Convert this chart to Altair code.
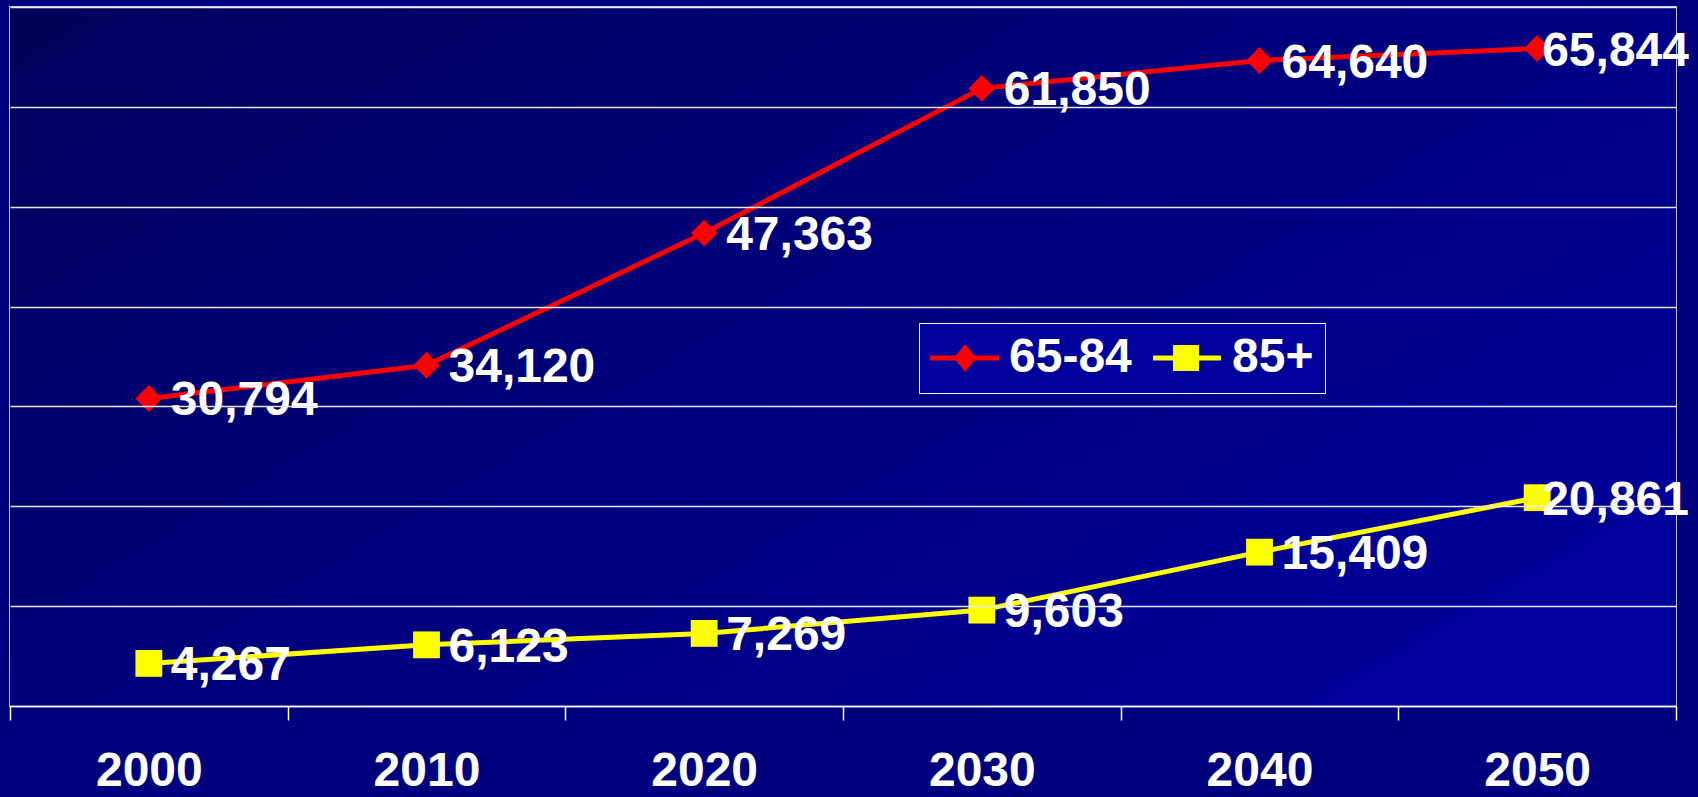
import altair as alt
import pandas as pd

# ---- data ----
years = ["2000", "2010", "2020", "2030", "2040", "2050"]
series_names = ["65-84", "85+"]
vals_65_84 = [30794, 34120, 47363, 61850, 64640, 65844]
vals_85_plus = [4267, 6123, 7269, 9603, 15409, 20861]
y_ticks = [0, 10000, 20000, 30000, 40000, 50000, 60000, 70000]
series_colors = ["#FF0000", "#FFFF00"]
series_shapes = ["diamond", "square"]

rows = []
for name, vals in zip(series_names, [vals_65_84, vals_85_plus]):
    for yr, v in zip(years, vals):
        rows.append({"year": yr, "series": name, "value": v, "label": f"{v:,}"})
df = pd.DataFrame(rows)

FONT = "Liberation Sans"

legend_diamond = "M-1,-0.1H1.875V0.1H-1Z M0.46,-0.58L0.92,0L0.46,0.58L0,0Z"
legend_square = "M-1,-0.1H1.83V0.1H-1Z M-0.165,-0.54H0.915V0.54H-0.165Z"

x_enc = alt.X(
    "year:N",
    sort=years,
    scale=alt.Scale(type="band", paddingInner=0, paddingOuter=0),
    axis=alt.Axis(
        title=None, labelAngle=0, labelFont=FONT, labelFontSize=48,
        labelFontWeight="bold", labelColor="white", labelPadding=27,
        tickColor="white", tickSize=14, tickWidth=1.5, tickBand="extent",
        domainColor="white", domainWidth=1.5, grid=False, zindex=1,
    ),
)
y_enc = alt.Y(
    "value:Q",
    scale=alt.Scale(domain=[0, 70000], nice=False, zero=True),
    axis=alt.Axis(
        title=None, labels=False, ticks=False, domain=False, values=y_ticks,
        grid=True, gridColor="#E8E8F2", gridWidth=1.5, gridOpacity=1, zindex=1,
    ),
)

legend = alt.Legend(
    orient="none", direction="horizontal", title=None,
    legendX=909, legendY=316,
    fillColor="#00009C", strokeColor="white", padding=11,
    labelFont=FONT, labelFontSize=48, labelFontWeight="bold", labelColor="white",
    labelOffset=31, columnPadding=21, symbolSize=2304, labelLimit=400,
    symbolStrokeWidth=0, symbolOpacity=1, zindex=2,
    symbolType=alt.ExprRef(
        expr=f"datum.value === '65-84' ? '{legend_diamond}' : '{legend_square}'"
    ),
)

color_enc = alt.Color(
    "series:N",
    scale=alt.Scale(domain=series_names, range=series_colors),
    legend=legend,
)

gradient = alt.LinearGradient(
    gradient="linear",
    stops=[
        alt.GradientStop(color="#00005A", offset=0),
        alt.GradientStop(color="#000078", offset=0.45),
        alt.GradientStop(color="#00009A", offset=1),
    ],
    x1=0, y1=0, x2=1, y2=0.7,
)

bg = alt.Chart(pd.DataFrame({"k": [0]})).mark_rect(fill=gradient, stroke=None).encode(
    x=alt.value(0), x2=alt.value("width"), y=alt.value(0), y2=alt.value("height")
)

base = alt.Chart(df).encode(x=x_enc, y=y_enc)

lines = base.mark_line(strokeWidth=5).encode(color=color_enc)

# invisible points that only carry the legend (filled symbols)
legend_points = base.mark_point(filled=True, opacity=0, size=10).encode(color=color_enc)

marker_layers = []
for name, col, shp in zip(series_names, series_colors, series_shapes):
    marker_layers.append(
        base.transform_filter(alt.datum.series == name).mark_point(
            filled=True, opacity=1, size=720, shape=shp, color=col
        )
    )

text_style = dict(align="left", baseline="middle", font=FONT, fontSize=48,
                  fontWeight="bold", color="white", dy=3)

labels_main = base.mark_text(dx=22, **text_style).encode(text="label:N").transform_filter(
    alt.datum.year != "2050"
)
labels_last = base.mark_text(dx=5, **text_style).encode(text="label:N").transform_filter(
    alt.datum.year == "2050"
)

chart = (
    alt.layer(bg, lines, legend_points, *marker_layers, labels_main, labels_last)
    .properties(
        width=1666, height=699,
        background="#00007E",
        padding={"left": 10, "top": 7, "right": 22, "bottom": 91},
        autosize=alt.AutoSizeParams(type="none"),
    )
    .configure_view(stroke="white", strokeWidth=1.5)
)

chart.save("out.html", embed_options={"renderer": "svg", "actions": False})
